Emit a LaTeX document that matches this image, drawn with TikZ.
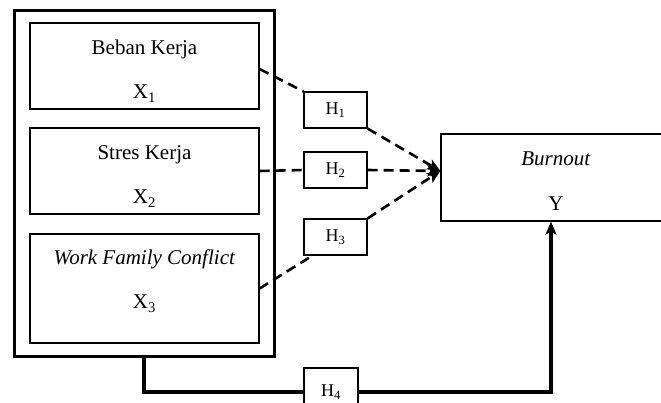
\documentclass[tikz,border=0pt]{standalone}
\usepackage{fontspec}
\setmainfont{Liberation Serif}
\usetikzlibrary{arrows.meta}
\begin{document}
\begin{tikzpicture}[>={Stealth[length=13pt, width=11pt, inset=3pt]}, x=1pt, y=-1pt,
  var/.style={draw, line width=1.2pt, minimum width=229pt, inner sep=0pt, align=center, font=\fontsize{21}{25}\selectfont},
  hyp/.style={draw, line width=1.2pt, fill=white, minimum width=63pt, minimum height=36pt, inner sep=0pt, font=\fontsize{18}{21}\selectfont},
  dashlink/.style={line width=2.6pt, dash pattern=on 10pt off 6pt},
  solidlink/.style={line width=3.2pt}]
  \useasboundingbox (0,0) rectangle (661,403);
  \clip (0,0) rectangle (661,403);
  %--- independent variables ---
  \node[draw, line width=3pt, minimum width=260pt, minimum height=345pt, inner sep=0pt] (frame) at (144,183.5) {};
  \node[var, minimum height=86pt] (beban) at (144.5,66) {\rule{0pt}{25pt}Beban Kerja\\[19pt]X\textsubscript{1}};
  \node[var, minimum height=86pt] (stres) at (144.5,171) {\rule{0pt}{25pt}Stres Kerja\\[19pt]X\textsubscript{2}};
  \node[var, minimum height=109pt] (wfc) at (144.5,288.5) {\textit{Work Family Conflict}\\[19pt]X\textsubscript{3}\rule[-18pt]{0pt}{18pt}};
  %--- dependent variable ---
  \node[var, minimum width=230pt, minimum height=87pt] (burnout) at (556,177.5) {\rule{0pt}{21pt}\textit{Burnout}\\[20pt]Y};
  \coordinate (tip) at ([yshift=6.5pt]burnout.west);
  %--- hypotheses ---
  \node[hyp] (h1) at (335.5,110) {H\textsubscript{1}};
  \node[hyp] (h2) at (335.5,170) {H\textsubscript{2}};
  \node[hyp] (h3) at (335.5,237) {H\textsubscript{3}};
  % partial effects
  \draw[dashlink] ([yshift=-3pt]beban.east) -- (h1.north west);
  \draw[dashlink, ->] (h1.south east) -- (tip);
  \draw[dashlink] (stres.east) -- (h2.west);
  \draw[dashlink, ->] (h2.east) -- (tip);
  \draw[dashlink] (wfc.east) -- ([xshift=9pt]h3.south west);
  \draw[dashlink, ->] (h3.north east) -- (tip);
  % simultaneous effect
  \node[hyp, minimum width=54pt, minimum height=48pt] (h4) at (331,392) {H\textsubscript{4}};
  \draw[solidlink] (frame.south) |- (h4.west);
  \draw[solidlink, ->] (h4.east) -| ([xshift=-5pt]burnout.south);
\end{tikzpicture}
\end{document}
